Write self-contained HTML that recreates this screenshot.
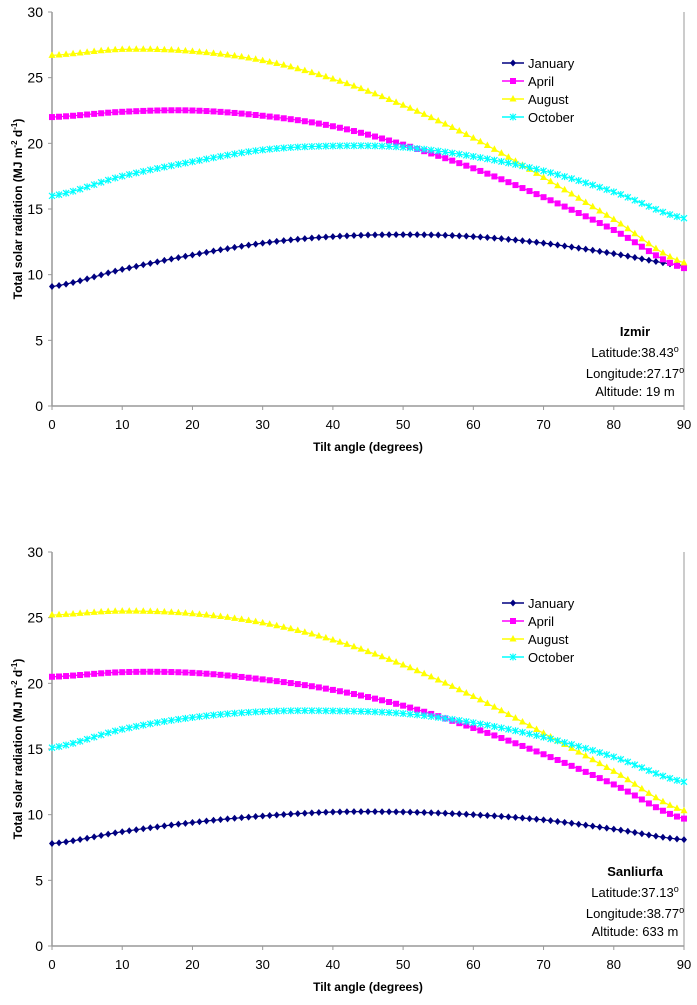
<!DOCTYPE html>
<html><head><meta charset="utf-8"><style>
body{margin:0;background:#fff;}
svg text{font-family:"Liberation Sans",Arial,sans-serif;}
</style></head><body>
<svg id="svg" width="697" height="1000" xmlns="http://www.w3.org/2000/svg"></svg>
<script>
const tilts = [0,10,20,30,40,50,60,70,80,90];
const seriesNames = ["January","April","August","October"];
const izmirJanuary = [9.1,10.4,11.5,12.4,12.9,13.05,12.9,12.4,11.6,10.7];
const izmirApril = [22.0,22.4,22.5,22.1,21.3,19.9,18.1,15.9,13.4,10.5];
const izmirAugust = [26.7,27.15,27.0,26.3,24.9,22.9,20.4,17.4,14.2,10.9];
const izmirOctober = [16.0,17.5,18.6,19.5,19.8,19.7,19.0,17.9,16.3,14.3];
const urfaJanuary = [7.8,8.7,9.4,9.9,10.2,10.2,10.0,9.6,8.9,8.1];
const urfaApril = [20.5,20.85,20.8,20.3,19.5,18.3,16.6,14.6,12.3,9.7];
const urfaAugust = [25.2,25.5,25.3,24.6,23.3,21.4,19.0,16.2,13.3,10.3];
const urfaOctober = [15.1,16.5,17.4,17.85,17.9,17.7,17.0,15.9,14.4,12.5];
const yTicks = [0,5,10,15,20,25,30];
const xTicks = [0,10,20,30,40,50,60,70,80,90];

const NS="http://www.w3.org/2000/svg";
const svg=document.getElementById('svg');
function el(tag,attrs,parent){const e=document.createElementNS(NS,tag);for(const k in attrs)e.setAttribute(k,attrs[k]);(parent||svg).appendChild(e);return e;}
const colors=["#000080","#ff00ff","#ffff00","#00ffff"];

function spline(xs,ys,x){
  let i=Math.min(Math.floor((x-xs[0])/(xs[1]-xs[0])),xs.length-2);
  const t=(x-xs[i])/(xs[i+1]-xs[i]);
  const p0=ys[Math.max(i-1,0)],p1=ys[i],p2=ys[i+1],p3=ys[Math.min(i+2,ys.length-1)];
  return 0.5*((2*p1)+(-p0+p2)*t+(2*p0-5*p1+4*p2-p3)*t*t+(-p0+3*p1-3*p2+p3)*t*t*t);
}

function marker(g,k,x,y,c){
  let m;
  if(k===0) m=el('polygon',{points:`${x},${y-3.5} ${x+3},${y} ${x},${y+3.5} ${x-3},${y}`,fill:c},g);
  else if(k===1) m=el('rect',{x:x-3,y:y-3,width:6,height:6,fill:c},g);
  else if(k===2) m=el('polygon',{points:`${x},${y-4} ${x+3.5},${y+2.5} ${x-3.5},${y+2.5}`,fill:c},g);
  else m=el('path',{d:`M${x-3} ${y-3}L${x+3} ${y+3}M${x+3} ${y-3}L${x-3} ${y+3}M${x} ${y-3.5}L${x} ${y+3.5}`,stroke:c,'stroke-width':1.2,fill:'none'},g);
  
  
}

function chart(top,bottom,data,place,prefix){
  const L=52,R=684;
  const xs=v=>L+(v/90)*(R-L);
  const ys=v=>bottom-(v/30)*(bottom-top);
  const g=el('g',{});
  el('line',{x1:L,y1:top,x2:L,y2:bottom,stroke:'#999','stroke-width':1.5,},g);
  el('line',{x1:L,y1:bottom,x2:R,y2:bottom,stroke:'#999','stroke-width':1.5,},g);
  el('line',{x1:R,y1:top,x2:R,y2:bottom,stroke:'#999','stroke-width':1,},g);
  yTicks.forEach(t=>{
    el('line',{x1:L-4,y1:ys(t),x2:L,y2:ys(t),stroke:'#999'},g);
    const tx=el('text',{x:L-9,y:ys(t)+5,'text-anchor':'end','font-size':14,fill:'#000'},g);tx.textContent=t;
    
  });
  xTicks.forEach(t=>{
    el('line',{x1:xs(t),y1:bottom,x2:xs(t),y2:bottom+4,stroke:'#999'},g);
    const tx=el('text',{x:xs(t),y:bottom+23,'text-anchor':'middle','font-size':13,fill:'#000'},g);tx.textContent=t;
    
  });
  const xt=el('text',{x:368,y:bottom+45,'text-anchor':'middle','font-size':12,'font-weight':'bold'},g);
  xt.textContent='Tilt angle (degrees)';
  
  const cy=(top+bottom)/2;
  const yt=el('text',{x:0,y:0,transform:`translate(22,${cy}) rotate(-90)`,'text-anchor':'middle','font-size':12,'font-weight':'bold'},g);
  yt.innerHTML='Total solar radiation (MJ m<tspan dy="-5" font-size="8">-2</tspan><tspan dy="5"> d</tspan><tspan dy="-5" font-size="8">-1</tspan><tspan dy="5">)</tspan>';
  
  data.forEach((arr,k)=>{
    const sg=el('g',{},g);
    
    
    let d='';const pts=[];
    for(let a=0;a<=90;a++){const v=spline(tilts,arr,a);pts.push([xs(a),ys(v)]);d+=(a?'L':'M')+xs(a).toFixed(1)+' '+ys(v).toFixed(1);}
    el('path',{d:d,stroke:colors[k],'stroke-width':1.2,fill:'none'},sg);
    pts.forEach(p=>marker(sg,k,p[0],p[1],colors[k]));
  });
  const lg=el('g',{},g);
  seriesNames.forEach((n,k)=>{
    const y=top+51+k*18;
    const eg=el('g',{},lg);
    
    
    el('line',{x1:502,y1:y,x2:524,y2:y,stroke:colors[k],'stroke-width':1.5},eg);
    marker(eg,k,513,y,colors[k]);
    const t=el('text',{x:528,y:y+5,'font-size':13},eg);t.textContent=n;
  });
  const ag=el('g',{},g);
  const ay=bottom-70;
  const t1=el('text',{x:635,y:ay,'text-anchor':'middle','font-size':13,'font-weight':'bold'},ag);t1.textContent=place[0];
  const t2=el('text',{x:635,y:ay+21,'text-anchor':'middle','font-size':13},ag);t2.innerHTML=place[1]+'<tspan dy="-5" font-size="9">o</tspan>';
  const t3=el('text',{x:635,y:ay+42,'text-anchor':'middle','font-size':13},ag);t3.innerHTML=place[2]+'<tspan dy="-5" font-size="9">o</tspan>';
  const t4=el('text',{x:635,y:ay+60,'text-anchor':'middle','font-size':13},ag);t4.textContent=place[3];
}
chart(12,406,[izmirJanuary,izmirApril,izmirAugust,izmirOctober],['Izmir','Latitude:38.43','Longitude:27.17','Altitude: 19 m'],'izmir');
chart(552,946,[urfaJanuary,urfaApril,urfaAugust,urfaOctober],['Sanliurfa','Latitude:37.13','Longitude:38.77','Altitude: 633 m'],'sanliurfa');
</script>
</body></html>
